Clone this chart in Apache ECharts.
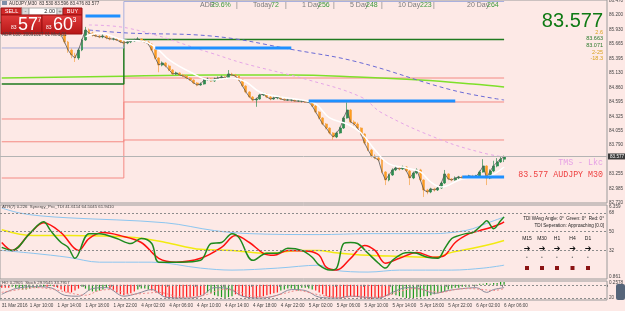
<!DOCTYPE html>
<html>
<head>
<meta charset="utf-8">
<title>AUDJPY M30</title>
<script src="https://cdn.jsdelivr.net/npm/echarts@6.0.0/dist/echarts.min.js"></script>
<style>
  html, body { margin: 0; padding: 0; background: #fde9e6; }
  #chart { width: 625px; height: 311px; }
</style>
</head>
<body>
<div id="chart"></div>
<script>
// ---- data ----
var xLabels = ['31 Mar 2016','1 Apr 10:00','1 Apr 14:00','1 Apr 18:00','1 Apr 22:00','4 Apr 02:00','4 Apr 06:00',
  '4 Apr 10:00','4 Apr 14:00','4 Apr 18:00','4 Apr 22:00','5 Apr 02:00','5 Apr 06:00','5 Apr 10:00',
  '5 Apr 14:00','5 Apr 18:00','5 Apr 22:00','6 Apr 02:00','6 Apr 06:00'];
var barsPerLabel = 8;
var slotCount = 174;   // bars + empty chart shift on the right

var firstOpen = 86.05;
var closes = [
  86.070,86.107,86.033,86.089,86.144,86.070,86.015,86.052,86.107,86.033,
  85.978,86.015,86.070,85.996,85.959,85.996,85.922,85.830,85.700,85.552,
  85.459,85.404,85.552,85.737,85.922,85.867,85.830,85.811,85.793,85.811,
  85.774,85.756,85.756,85.737,85.700,85.681,85.700,85.718,85.737,85.756,
  85.718,85.700,85.663,85.552,85.404,85.274,85.311,85.256,85.182,85.107,
  85.126,85.089,85.070,85.033,84.996,84.941,84.904,84.922,84.996,85.015,
  84.978,85.015,85.033,85.052,85.033,85.107,85.089,85.070,84.996,84.885,
  84.774,84.681,84.626,84.644,84.718,84.737,84.681,84.644,84.663,84.681,
  84.644,84.626,84.626,84.626,84.607,84.607,84.607,84.589,84.589,84.515,
  84.404,84.293,84.181,84.107,84.015,83.941,84.015,84.107,84.293,84.441,
  84.218,84.181,84.107,83.996,83.830,83.700,83.589,83.552,83.515,83.293,
  83.144,83.237,83.330,83.366,83.348,83.385,83.311,83.181,83.274,83.330,
  83.144,82.959,82.922,82.978,82.959,82.996,83.089,83.256,83.163,83.144,
  83.181,83.200,83.181,83.200,83.218,83.200,83.218,83.293,83.404,83.181,
  83.311,83.404,83.478,83.530,83.577
];
var highs = [
  86.12,86.15,86.13,86.12,86.18,86.16,86.09,86.08,86.14,86.12,
  86.05,86.04,86.10,86.09,86.02,86.03,86.01,85.94,85.85,85.72,
  85.58,85.50,85.58,85.76,85.98,85.95,85.89,85.85,85.83,85.84,
  85.83,85.80,85.78,85.77,85.75,85.72,85.72,85.74,85.76,85.79,
  85.77,85.74,85.72,85.68,85.57,85.42,85.34,85.33,85.28,85.20,
  85.15,85.14,85.11,85.09,85.05,85.01,84.96,84.95,85.02,85.04,
  85.03,85.04,85.06,85.08,85.07,85.18,85.13,85.11,85.09,85.01,
  84.90,84.79,84.70,84.67,84.74,84.76,84.75,84.70,84.69,84.70,
  84.70,84.66,84.65,84.64,84.64,84.63,84.62,84.62,84.61,84.60,
  84.53,84.42,84.31,84.20,84.12,84.03,84.04,84.13,84.32,84.58,
  84.46,84.25,84.21,84.12,84.01,83.85,83.72,83.62,83.58,83.53,
  83.31,83.26,83.36,83.40,83.39,83.41,83.40,83.33,83.30,83.36,
  83.35,83.16,82.98,83.00,83.00,83.02,83.11,83.33,83.27,83.18,
  83.21,83.22,83.22,83.22,83.24,83.24,83.24,83.32,83.53,83.42,
  83.34,83.50,83.55,83.58,83.596
];
var lows = [
  86.02,86.05,86.01,86.02,86.07,86.04,85.99,85.99,86.03,86.01,
  85.95,85.96,86.00,85.97,85.93,85.94,85.89,85.80,85.67,85.50,
  85.40,85.33,85.37,85.53,85.72,85.84,85.80,85.79,85.77,85.77,
  85.75,85.73,85.73,85.72,85.68,85.65,85.66,85.68,85.70,85.72,
  85.70,85.68,85.64,85.53,85.38,85.14,85.25,85.23,85.16,85.09,
  85.09,85.07,85.05,85.01,84.98,84.92,84.88,84.89,84.91,84.98,
  84.96,84.96,85.00,85.02,85.01,85.02,85.07,85.05,84.98,84.87,
  84.75,84.66,84.60,84.50,84.63,84.70,84.66,84.62,84.63,84.64,
  84.63,84.61,84.61,84.60,84.59,84.59,84.58,84.57,84.57,84.50,
  84.38,84.27,84.16,84.08,83.99,83.89,83.92,84.00,84.09,84.28,
  84.20,84.15,84.08,83.97,83.80,83.68,83.56,83.53,83.49,83.27,
  83.05,83.12,83.22,83.31,83.32,83.33,83.29,83.05,83.16,83.25,
  83.12,82.83,82.88,82.90,82.93,82.94,82.98,83.07,83.14,83.12,
  83.13,83.16,83.16,83.17,83.18,83.18,83.19,83.20,83.28,83.05,
  83.16,83.29,83.38,83.46,83.476
];
var bidPrice = 83.577;

// overlays on the price chart: [bar, price]
var whiteLine = [[24,85.80],[28,85.867],[35,85.737],[40,85.718],[44,85.607],[48,85.367],[54,85.144],[60,84.996],
  [66,85.033],[70,84.96],[74,84.774],[80,84.681],[86,84.626],[90,84.552],[94,84.293],[99,84.181],[103,84.015],
  [107,83.70],[111,83.441],[116,83.366],[120,83.293],[123,83.107],[126,83.015],[132,83.163],[139,83.20],[144,83.385]];
var pinkLine = [[25,86.015],[36,85.959],[60,85.496],[69,85.311],[88,84.996],[103,84.681],[109,84.385],[126,83.885],[138,83.644],[144,83.570]];
var slateLine = [[25,85.922],[36,85.867],[60,85.811],[84,85.552],[102,85.330],[129,84.811],[144,84.626]];
var limeLine = [[0,85.033],[30,85.061],[60,85.089],[83,85.089],[102,85.052],[120,84.996],[135,84.922],[144,84.867]];
var switchBar = 35, lastBar = 144;
var redBefore = [84.274, 83.852, 83.181];
var redAfter = [85.033, 84.589, 83.885];
var greenLevels = [84.922, 85.746];
var boxLevels = [85.589, 86.45];
var blueFrom = [24, 44, 88, 132];
var blueTo = [34, 83, 130, 144];
var bluePrice = [86.181, 85.589, 84.607, 83.200];
var priceTicks = [86.470,86.200,85.930,85.665,85.395,85.130,84.860,84.595,84.325,84.055,83.790,83.255,82.985,82.720];

// TDI panel: [bar, value]
var tdiGreen = [[0,34.9],[3,32.0],[8,48.1],[12,59.5],[14,51.0],[17,39.6],[19,35.0],[21,24.4],[25,48.1],[28,48.1],
  [33,43.4],[37,38.6],[40,43.4],[43,38.6],[45,20.7],[51,20.7],[57,22.5],[60,38.6],[63,39.6],[66,48.1],[68,44.3],
  [72,22.5],[76,29.2],[79,29.2],[82,34.0],[86,32.0],[89,25.4],[91,17.8],[94,13.1],[96,15.0],[98,38.6],[100,39.6],
  [102,38.6],[105,29.2],[108,19.7],[110,15.0],[112,22.5],[115,29.2],[117,30.1],[119,29.2],[122,25.4],[125,24.4],
  [127,34.0],[129,43.4],[131,46.2],[133,48.1],[135,49.1],[138,57.6],[139,60.4],[141,52.8],[143,60.4],[144,64.2]];
var tdiRed = [[0,39.6],[3,32.0],[8,48.1],[12,58.5],[17,49.1],[22,32.0],[25,43.4],[29,49.1],[34,46.2],[40,39.6],
  [45,24.4],[50,20.7],[57,24.4],[63,34.9],[67,46.2],[71,39.6],[75,29.2],[78,27.3],[82,32.0],[88,31.1],[91,27.3],
  [93,15.9],[96,13.1],[100,24.4],[104,36.8],[107,32.0],[110,19.7],[114,24.4],[119,30.1],[124,25.4],[127,27.3],
  [130,39.6],[134,48.1],[137,51.0],[140,53.8],[143,57.6],[144,59.5]];
var tdiYellow = [[0,51.9],[9,46.2],[19,46.2],[38,44.3],[47,39.6],[57,33.0],[66,32.0],[76,29.2],[86,32.0],[91,32.0],
  [95,30.1],[105,27.3],[114,26.3],[124,25.4],[129,30.1],[135,34.0],[141,38.6],[144,41.5]];
var tdiUpper = [[0,72.7],[5,68.0],[11,65.2],[19,63.3],[47,58.5],[61,51.0],[71,48.1],[91,47.2],[105,48.1],[124,48.1],
  [131,50.0],[135,52.8],[139,58.0],[144,64.0]];
var tdiLower = [[0,32.0],[9,29.2],[19,25.4],[28,20.7],[43,20.7],[57,15.0],[66,13.1],[79,15.0],[91,17.8],[95,13.1],
  [105,11.2],[114,13.1],[129,13.1],[138,15.0],[144,17.8]];
var tdiLevels = [68, 50, 32];
var tdiTicks = [73.8, 68, 50, 32, 6.5];
var tdiTickText = ['6.359', '68', '50', '32', '0.861'];

// bottom oscillator
var histVals = [-3,-3,-3, -2,-3,-4,-5,-5,-4,-3,-3,-2,-2, -2,-1,-2, -3,-5,-7,-8,-8,-6,-4,
  -2,-4,-6,-7,-7,-6,-5,-3, -4,-6,-8,-10,-11,-10,-9,-7, -5,-4,-4,-5, -6,-7,
  -9,-11,-13,-14,-15,-15,-14,-14,-13,-13,-12,-12,-11,-10, -8,-9,-11,-12,-13,-14,-13,-12,
  -10,-11,-12,-13,-13,-14,-14,-13,-12,-11,-10,-9,-8, -6,-5,-4,-4,-5,-6,-3,-3,-4,-5,
  -6,-8,-10,-12,-13,-14,-15,-15,-14,-13,-12,-12,-13,-14,-15,-15,-15,-14,-14,-13,-12,-11,
  -10,-11,-12,-13,-14,-14,-14,-13,-13,-12,-12,-11,-10,-9,-8,-7, -5,-4,-3,-3,-2,-2,-2,-1,-1,
  1,1,2,1,2,2,3,3];
var histColors = ('rrr' + 'gggggggggg' + 'rgr' + 'rrrrrrr' + 'gggggggg' + 'rrrrrrrr' + 'gggg' + 'rr' +
  'rrrrrrrrrrrrrr' + 'gggggggg' + 'rrrrrrrrrrrrr' + 'gggggggggg' + 'rrrrrrrrrrrrrrrrrrrrrr' +
  'gggggggggggggggg' + 'ggggggggg' + 'gggggggg').split('');
var oscMain = [[0,-10],[4,-4],[9,-2],[14,-3],[18,-11],[22,-12],[26,-4],[30,-3],[35,-12],[39,-9],[43,-5],[47,-13],
  [52,-14],[57,-12],[61,-3],[65,-4],[69,-12],[74,-14],[79,-11],[83,-5],[87,-6],[91,-13],[96,-14],[100,-12],
  [104,-13],[108,-14],[112,-8],[116,-3],[120,-4],[124,-9],[128,-6],[132,-4],[136,-3],[139,-8],[141,-5],[144,-3]];
var oscSignal = [[0,-8],[5,-5],[10,-3],[15,-5],[20,-9],[24,-11],[28,-6],[32,-5],[37,-10],[41,-9],[45,-8],[50,-12],
  [55,-13],[59,-10],[63,-5],[67,-6],[71,-11],[76,-13],[81,-9],[85,-6],[89,-9],[93,-12],[98,-13],[102,-12],
  [106,-13],[110,-12],[114,-7],[118,-4],[122,-6],[126,-8],[130,-5],[134,-4],[138,-5],[141,-6],[144,-4]];
var oscTicks = [2, -14];
var oscTickText = ['0.2578', '20'];

// ---- build ----
var cats = [];
for (var i = 0; i < slotCount; i++) {
  var k = i / barsPerLabel;
  cats.push(i % barsPerLabel === 0 && k < xLabels.length ? xLabels[k] : '');
}
var candles = closes.map(function (c, i) {
  var o = i === 0 ? firstOpen : closes[i - 1];
  return [o, c, lows[i], highs[i]];
});
var closeLine = closes.map(function (c, i) { return [i, c]; });

function stepLine(a, b) { return [[0, a], [switchBar, a], [switchBar, b], [lastBar, b]]; }
function lookup(ticks, texts) {
  return function (v) {
    for (var j = 0; j < ticks.length; j++) if (Math.abs(ticks[j] - v) < 1e-6) return texts[j];
    return '';
  };
}

var FONT = '"Liberation Sans", Arial, sans-serif';
var SMALL = 4.6;
var series = [];
redBefore.forEach(function (p, j) {
  series.push({ type: 'line', xAxisIndex: 0, yAxisIndex: 0, data: stepLine(p, redAfter[j]), symbol: 'none',
    lineStyle: { color: '#f48a84', width: 1 }, z: 1, silent: true });
});
series.push({ type: 'line', data: limeLine, smooth: 0.4, symbol: 'none', lineStyle: { color: '#7ee02a', width: 1.5 }, z: 1 });
series.push({ type: 'line', data: stepLine(greenLevels[0], greenLevels[1]), symbol: 'none', lineStyle: { color: '#1f7a1f', width: 1.5 }, z: 1 });
series.push({ type: 'line', data: stepLine(boxLevels[0], boxLevels[1]), symbol: 'none', lineStyle: { color: '#aab0dd', width: 1 }, z: 1 });
series.push({ type: 'line', data: pinkLine, smooth: 0.4, symbol: 'none', lineStyle: { color: '#e6a6e6', width: 1, type: [3, 3] }, z: 1 });
series.push({ type: 'line', data: slateLine, smooth: 0.4, symbol: 'none', lineStyle: { color: '#6b6bd6', width: 1, type: [4, 3] }, z: 1 });
series.push({
  type: 'candlestick', data: candles, barWidth: 2.4, z: 3,
  itemStyle: { color: '#2e8b4f', color0: '#ff9d1e', borderColor: '#2e8b4f', borderColor0: '#f5a445', borderWidth: 0.7 },
  markLine: {
    silent: true, symbol: ['none', 'none'], animation: false,
    lineStyle: { color: '#b4b4b4', width: 1, type: 'solid' },
    label: { show: true, position: 'end', distance: 1, formatter: bidPrice.toFixed(3), color: '#fff',
      backgroundColor: '#3a3a3a', fontSize: SMALL, fontFamily: FONT, padding: [1, 2, 0, 2] },
    data: [{ yAxis: bidPrice }]
  }
});
series.push({ type: 'line', data: closeLine, symbol: 'none', lineStyle: { color: '#555555', width: 0.8 }, z: 4 });
series.push({ type: 'line', data: whiteLine, smooth: 0.4, symbol: 'none', lineStyle: { color: '#ffffff', width: 1.5 }, z: 5 });
bluePrice.forEach(function (p, j) {
  series.push({ type: 'line', data: [[blueFrom[j], p], [blueTo[j], p]], symbol: 'none', lineStyle: { color: '#1e90ff', width: 3 }, z: 6 });
});

// TDI
function tdi(data, color, width, extra) {
  var s = { type: 'line', xAxisIndex: 1, yAxisIndex: 1, data: data, smooth: 0.35, symbol: 'none',
    lineStyle: { color: color, width: width }, z: 3 };
  for (var key in extra) s[key] = extra[key];
  return s;
}
series.push(tdi(tdiUpper, '#8cc6f0', 1));
series.push(tdi(tdiLower, '#8cc6f0', 1));
series.push(tdi(tdiYellow, '#f2ea10', 1.5, {
  markLine: { silent: true, symbol: ['none', 'none'], label: { show: false },
    lineStyle: { color: '#8c8c8c', type: [2, 2], width: 1 },
    data: tdiLevels.map(function (v) { return { yAxis: v }; }) }
}));
series.push(tdi(tdiRed, '#ff1010', 1.5));
series.push(tdi(tdiGreen, '#1e8a1e', 1.5));

// oscillator
series.push({
  type: 'bar', xAxisIndex: 2, yAxisIndex: 2, data: histVals, barWidth: 1.2, z: 2,
  itemStyle: { color: function (p) { return histColors[p.dataIndex] === 'g' ? '#1f9a1f' : '#ff1a1a'; } },
  markLine: { silent: true, symbol: ['none', 'none'], label: { show: false },
    lineStyle: { color: '#8c8c8c', type: [2, 2], width: 1 }, data: [{ yAxis: 0 }, { yAxis: -14 }] }
});
series.push({ type: 'line', xAxisIndex: 2, yAxisIndex: 2, data: oscMain, smooth: 0.35, symbol: 'none', lineStyle: { color: '#8a8a9a', width: 1 }, z: 3 });
series.push({ type: 'line', xAxisIndex: 2, yAxisIndex: 2, data: oscSignal, smooth: 0.35, symbol: 'none', lineStyle: { color: '#f08a8a', width: 1, type: [2, 2] }, z: 3 });

// ---- decoration text / trade panel ----
var G = [];
function txt(x, y, s, size, fill, align, family, weight) {
  G.push({ type: 'text', x: x, y: y, z: 100, silent: true,
    style: { text: s, fill: fill, align: align || 'left', verticalAlign: 'middle',
      font: (weight || 'normal') + ' ' + size + 'px ' + (family || FONT) } });
}
function box(x, y, w, h, fill, stroke) {
  G.push({ type: 'rect', z: 99, silent: true, shape: { x: x, y: y, width: w, height: h },
    style: { fill: fill, stroke: stroke || null, lineWidth: stroke ? 1 : 0 } });
}
var redGrad = { type: 'linear', x: 0, y: 0, x2: 0, y2: 1,
  colorStops: [{ offset: 0, color: '#e23c3c' }, { offset: 1, color: '#b51616' }] };

box(2, 1, 5, 4, '#8090a8');
txt(9, 3.5, 'AUDJPY,M30  83.530 83.596 83.476 83.577', SMALL, '#333');
box(1, 8, 21, 7, '#d02828', '#9a1010');
box(22, 8, 7, 7, '#d9d9d9', '#aaa');
box(29, 8, 28, 7, '#ffffff', '#aaa');
box(57, 8, 6, 7, '#d9d9d9', '#aaa');
box(63, 8, 19, 7, '#d02828', '#9a1010');
box(1, 15, 41, 19, redGrad, '#9a1010');
box(42, 15, 40, 19, redGrad, '#9a1010');
txt(11.5, 11.7, 'SELL', 5.5, '#fff', 'center');
txt(25.5, 11.5, '-', 6, '#666', 'center');
txt(55, 11.7, '2.00', 5.5, '#222', 'right');
txt(60, 11.5, '+', 6, '#666', 'center');
txt(72.5, 11.7, 'BUY', 5.5, '#fff', 'center');
txt(11, 28, '83', 5, '#fff');
txt(18, 25.5, '57', 18, '#fff');
txt(37.5, 20.5, '7', 7, '#fff');
txt(46, 28, '83', 5, '#fff');
txt(53, 25.5, '60', 18, '#fff');
txt(72.5, 20.5, '3', 7, '#fff');
txt(2, 34.5, 'ADR L00: 20091027 01 Mod 01', SMALL, '#444');

var adrGray = '#7a7a7a', adrGreen = '#3c9a3c';
txt(200, 5.5, 'ADR', 7, adrGray); txt(211, 5.5, '29.6%', 7, adrGreen); txt(236, 5.5, '|', 7, adrGray);
txt(253, 5.5, 'Today', 7, adrGray); txt(271, 5.5, '72', 7, adrGreen); txt(285, 5.5, '|', 7, adrGray);
txt(302, 5.5, '1 Day', 7, adrGray); txt(318, 5.5, '256', 7, adrGreen); txt(333, 5.5, '|', 7, adrGray);
txt(350, 5.5, '5 Day', 7, adrGray); txt(366, 5.5, '248', 7, adrGreen); txt(381, 5.5, '|', 7, adrGray);
txt(398, 5.5, '10 Day', 7, adrGray); txt(420, 5.5, '223', 7, adrGreen); txt(433, 5.5, '|', 7, adrGray);
txt(467, 5.5, '20 Day', 7, adrGray); txt(487, 5.5, '264', 7, adrGreen);

txt(603, 21, '83.577', 20, '#0f7a14', 'right');
txt(603, 32, '2.6', 5.5, '#d9a21e', 'right');
txt(603, 38.5, '83.663', 5.5, '#2c7a2c', 'right');
txt(603, 45, '83.071', 5.5, '#2c7a2c', 'right');
txt(603, 52, '2-25', 5.5, '#d9a21e', 'right');
txt(603, 58.5, '-18.3', 5.5, '#d9a21e', 'right');

var MONO = '"Liberation Mono", "DejaVu Sans Mono", monospace';
txt(603, 163, 'TMS - Lkc', 8.3, '#e6a0e6', 'right', MONO);
txt(603, 174.5, '83.577 AUDJPY M30', 8.3, '#ee4040', 'right', MONO);

txt(2, 206.5, 'ATR(7) 0.226  Synergy_Pro_TDI 41.6114 64.5045 61.9410', 4.3, '#444');
txt(604, 219, 'TDI WAvg Angle: 0\u00b0  Green: 0\u00b0  Red: 0\u00b0', 4.6, '#222', 'right');
txt(604, 226, 'TDI Seperation: Approaching [0.0]', 4.6, '#222', 'right');
var tfNames = ['M15', 'M30', 'H1', 'H4', 'D1'];
var tfX = [527, 542, 557, 572.5, 588];
tfNames.forEach(function (n, j) {
  txt(tfX[j], 239, n, 5, '#222', 'center');
  txt(tfX[j], 248.5, '\u2794', 8, '#111', 'center', '"DejaVu Sans"', 'bold');
  txt(tfX[j], 258, '\u2022', 5, '#777', 'center');
  box(tfX[j] - 2, 266, 4, 4, '#8b1414');
});
txt(2, 282.5, 'HO 0.2905  Stoch 29.9545 33.7917', 4.3, '#444');
G.push({ type: 'rect', z: 100, silent: true, shape: { x: 616, y: 284, width: 9, height: 16, r: 2 },
  style: { fill: '#56657a' } });

// ---- axes ----
var gridStyle = { show: true, borderColor: '#9a9a9a', borderWidth: 1, backgroundColor: 'transparent',
  left: 0, right: 18, containLabel: false, outerBoundsMode: 'none' };
function grid(top, height) {
  var g = { top: top, height: height };
  for (var key in gridStyle) g[key] = gridStyle[key];
  return g;
}
function xAx(idx, showLabel) {
  return {
    type: 'category', gridIndex: idx, data: cats, boundaryGap: true,
    axisLine: { show: false }, splitLine: { show: false },
    axisTick: { show: showLabel, length: 2, lineStyle: { color: '#777' },
      interval: function (i, v) { return v !== ''; } },
    axisLabel: { show: showLabel, fontSize: SMALL, color: '#444', fontFamily: FONT, align: 'left', margin: 3,
      showMinLabel: true, hideOverlap: false,
      interval: function (i, v) { return v !== ''; } }
  };
}
function yAx(idx, min, max, ticks, fmt) {
  return {
    type: 'value', gridIndex: idx, position: 'right', min: min, max: max, scale: true,
    splitLine: { show: false }, axisLine: { show: false }, axisTick: { show: false },
    axisLabel: { fontSize: SMALL, color: '#444', fontFamily: FONT, margin: 2, customValues: ticks, formatter: fmt,
      showMinLabel: true, showMaxLabel: true }
  };
}

var chart = echarts.init(document.getElementById('chart'), null, { renderer: 'canvas' });
chart.setOption({
  backgroundColor: '#fde9e6',
  animation: false,
  grid: [grid(0, 203), grid(205, 74), grid(281, 19)],
  xAxis: [xAx(0, false), xAx(1, false), xAx(2, true)],
  yAxis: [
    yAx(0, 82.718, 86.478, priceTicks, function (v) { return v.toFixed(3); }),
    yAx(1, 4.55, 75.6, tdiTicks, lookup(tdiTicks, tdiTickText)),
    yAx(2, -16, 4, oscTicks, lookup(oscTicks, oscTickText))
  ],
  series: series,
  graphic: { elements: G }
});
</script>
</body>
</html>
